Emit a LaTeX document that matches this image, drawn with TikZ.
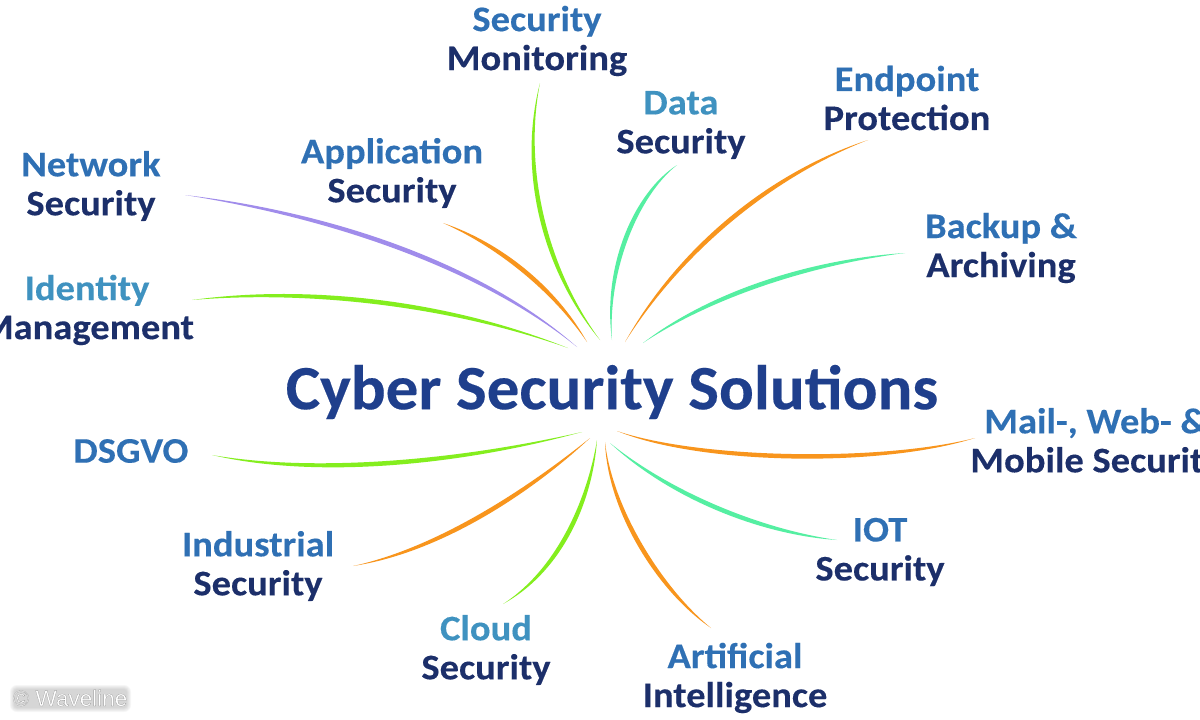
\documentclass[tikz,border=0pt]{standalone}
\usepackage{fontspec}
\usetikzlibrary{calc}
\setmainfont{Carlito}
\newfontfamily\labelfont[FakeStretch=1.07,FakeBold=0.25]{Carlito Bold}
\newfontfamily\titlefont[FakeStretch=1.03,FakeBold=0.3]{Carlito Bold}
\newfontfamily\creditfont[FakeBold=0.6]{Liberation Sans}
\definecolor{topblue}{HTML}{2F70B4}
\definecolor{tealblue}{HTML}{3F92C0}
\definecolor{navy}{HTML}{1C2F6A}
\definecolor{titleblue}{HTML}{1F3F8C}
\definecolor{wire-purple}{HTML}{A08CEB}
\definecolor{wire-orange}{HTML}{F8951D}
\definecolor{wire-lime}{HTML}{84EE1E}
\definecolor{wire-mint}{HTML}{55EFA2}
\tikzset{
  toplabel/.style={inner sep=0pt,align=center,font=\labelfont\fontsize{36}{39}\selectfont},
  titlelabel/.style={inner sep=0pt,text=titleblue,font=\titlefont\fontsize{63}{63}\selectfont},
  wirefill/.style={fill=#1,draw=none},
}
\newcommand{\twolines}[3][topblue]{\textcolor{#1}{#2}\\\textcolor{navy}{#3}}
% tapered connector: named ends, two control points
\newcommand{\spoke}[6]{%
  \coordinate (#1-a) at (#3);
  \coordinate (#1-b) at (#6);
  \coordinate (#1-c) at (#4);
  \coordinate (#1-d) at (#5);
  \fill[wirefill=#2] (#1-a)
    .. controls ($(#1-c)!3pt!90:(#1-d)$) and ($(#1-d)!3pt!-90:(#1-c)$) .. (#1-b)
    .. controls ($(#1-d)!3pt!90:(#1-c)$) and ($(#1-c)!3pt!-90:(#1-d)$) .. (#1-a) -- cycle;
}
\begin{document}
\begin{tikzpicture}[x=1pt,y=-1pt]
\useasboundingbox (0,0) rectangle (1200,720);
\fill[white] (0,0) rectangle (1200,720);
\spoke{net}{wire-purple}{185,195}{330,215}{480,265}{577,347}
\spoke{idn}{wire-lime}{192,300}{300,288}{440,300}{568,348}
\spoke{app}{wire-orange}{443,223}{500,245}{555,290}{587,342}
\spoke{mon}{wire-lime}{540,83}{520,170}{545,270}{600,340}
\spoke{dat}{wire-mint}{677,165}{635,195}{605,270}{612,340}
\spoke{end}{wire-orange}{868,140}{770,175}{680,250}{625,342}
\spoke{bak}{wire-mint}{905,253}{810,262}{710,295}{643,343}
\spoke{mai}{wire-orange}{617,431}{700,462}{880,465}{975,438}
\spoke{iot}{wire-mint}{610,443}{670,495}{760,532}{837,540}
\spoke{art}{wire-orange}{605,442}{610,510}{660,590}{711,628}
\spoke{clo}{wire-lime}{503,604}{560,570}{590,500}{597,440}
\spoke{ind}{wire-orange}{353,566}{440,550}{530,490}{590,438}
\spoke{dsg}{wire-lime}{212,455}{310,475}{450,465}{582,432}
\node[titlelabel] (title) at (612,392) {Cyber Security Solutions};
\node[toplabel] (network) at (91,186) {\twolines{Network}{Security}};
\node[toplabel] (identity) at (87,310) {\twolines[tealblue]{Identity}{Management}};
\node[toplabel] (application) at (392,173) {\twolines{Application}{Security}};
\node[toplabel] (monitoring) at (537,41) {\twolines{Security}{Monitoring}};
\node[toplabel] (data) at (681,125) {\twolines[tealblue]{Data}{Security}};
\node[toplabel] (endpoint) at (907,98) {\twolines{Endpoint}{Protection}};
\node[toplabel] (backup) at (1001,248) {\twolines{Backup \&}{Archiving}};
\node[toplabel] (mail) at (1096,443) {\twolines{Mail-, Web- \&}{Mobile Security}};
\node[toplabel,text=topblue] (dsgvo) at (131,451) {DSGVO};
\node[toplabel] (industrial) at (258,566) {\twolines{Industrial}{Security}};
\node[toplabel] (cloud) at (486,650) {\twolines[tealblue]{Cloud}{Security}};
\node[toplabel] (artificial) at (735,678) {\twolines{Artificial}{Intelligence}};
\node[toplabel] (iotsec) at (880,552) {\twolines{IOT}{Security}};
\foreach \w in {5,4,3,2,1}{
  \fill[gray,opacity=0.07,rounded corners=\w pt+2pt] ({15-\w},{690-\w}) rectangle ({126+\w},{707+\w});
}
\node[inner sep=0pt,text=white] (credit) at (70,698) {\creditfont\fontsize{22.5}{22.5}\selectfont\special{pdf:bcolor [1] [0.5]}© Waveline\special{pdf:ecolor}};
\end{tikzpicture}
\end{document}
